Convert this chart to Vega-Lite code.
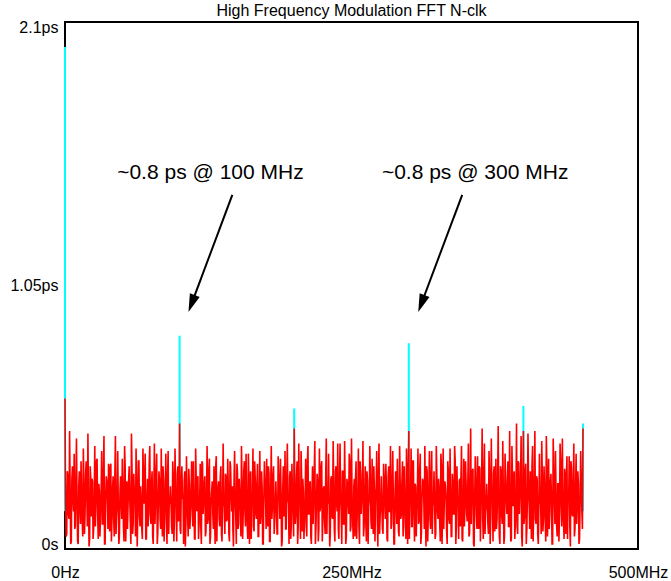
{
"$schema": "https://vega.github.io/schema/vega-lite/v6.json",
"width": 573, "height": 527,
"autosize": {"type": "none"},
"padding": {"left": 65, "top": 22, "right": 33, "bottom": 32},
"background": "white",
"title": {"text": "High Frequency Modulation FFT N-clk", "font": "Liberation Sans", "fontSize": 16, "fontWeight": "normal", "color": "black", "offset": 0, "anchor": "middle"},
"config": {
 "view": {"stroke": "black", "strokeWidth": 2},
 "axis": {"grid": false, "ticks": false, "domain": false, "title": null, "labelFont": "Liberation Sans", "labelFontSize": 16, "labelColor": "black"}
},
"datasets": {
"notes": [{"f":126.9,"v":1.5,"label":"~0.8 ps @ 100 MHz"},{"f":357.9,"v":1.5,"label":"~0.8 ps @ 300 MHz"}],
"arrows": [{"f":146.0,"v":1.411,"f2":110.5,"v2":0.978},{"f":346.6,"v":1.411,"f2":311.0,"v2":0.978}],
"heads": [{"f":110.5,"v":0.978},{"f":311.0,"v":0.978}],
"spikes": [{"f":0,"v":2.0,"lo":0.15},{"f":100,"v":0.85,"lo":0.15},{"f":200,"v":0.56,"lo":0.15},{"f":300,"v":0.82,"lo":0.15},{"f":400,"v":0.57,"lo":0.15},{"f":452,"v":0.5,"lo":0.15}],
"noise": [
{"f":0,"v":0.6},{"f":1,"v":0.05},{"f":2,"v":0.31},{"f":3,"v":0.14},{"f":4,"v":0.47},{"f":5,"v":0.02},{"f":6,"v":0.28},{"f":7,"v":0.2},{"f":8,"v":0.38},{"f":9,"v":0.09},
{"f":10,"v":0.44},{"f":11,"v":0.03},{"f":12,"v":0.25},{"f":13,"v":0.17},{"f":14,"v":0.35},{"f":15,"v":0.11},{"f":16,"v":0.4},{"f":17,"v":0.06},{"f":18,"v":0.3},{"f":19,"v":0.22},
{"f":20,"v":0.46},{"f":21,"v":0.01},{"f":22,"v":0.33},{"f":23,"v":0.13},{"f":24,"v":0.27},{"f":25,"v":0.08},{"f":26,"v":0.41},{"f":27,"v":0.18},{"f":28,"v":0.36},{"f":29,"v":0.04},
{"f":30,"v":0.23},{"f":31,"v":0.15},{"f":32,"v":0.39},{"f":33,"v":0.1},{"f":34,"v":0.45},{"f":35,"v":0.02},{"f":36,"v":0.29},{"f":37,"v":0.19},{"f":38,"v":0.34},{"f":39,"v":0.07},
{"f":40,"v":0.34},{"f":41,"v":0.12},{"f":42,"v":0.29},{"f":43,"v":0.05},{"f":44,"v":0.45},{"f":45,"v":0.14},{"f":46,"v":0.39},{"f":47,"v":0.02},{"f":48,"v":0.23},{"f":49,"v":0.2},
{"f":50,"v":0.36},{"f":51,"v":0.09},{"f":52,"v":0.41},{"f":53,"v":0.03},{"f":54,"v":0.27},{"f":55,"v":0.17},{"f":56,"v":0.33},{"f":57,"v":0.11},{"f":58,"v":0.46},{"f":59,"v":0.06},
{"f":60,"v":0.3},{"f":61,"v":0.22},{"f":62,"v":0.4},{"f":63,"v":0.01},{"f":64,"v":0.35},{"f":65,"v":0.13},{"f":66,"v":0.25},{"f":67,"v":0.08},{"f":68,"v":0.4},{"f":69,"v":0.18},
{"f":70,"v":0.38},{"f":71,"v":0.04},{"f":72,"v":0.28},{"f":73,"v":0.15},{"f":74,"v":0.41},{"f":75,"v":0.1},{"f":76,"v":0.31},{"f":77,"v":0.02},{"f":78,"v":0.42},{"f":79,"v":0.19},
{"f":80,"v":0.38},{"f":81,"v":0.07},{"f":82,"v":0.31},{"f":83,"v":0.12},{"f":84,"v":0.4},{"f":85,"v":0.05},{"f":86,"v":0.28},{"f":87,"v":0.14},{"f":88,"v":0.38},{"f":89,"v":0.02},
{"f":90,"v":0.39},{"f":91,"v":0.2},{"f":92,"v":0.25},{"f":93,"v":0.09},{"f":94,"v":0.35},{"f":95,"v":0.03},{"f":96,"v":0.4},{"f":97,"v":0.17},{"f":98,"v":0.3},{"f":99,"v":0.11},
{"f":100,"v":0.5},{"f":101,"v":0.06},{"f":102,"v":0.33},{"f":103,"v":0.22},{"f":104,"v":0.27},{"f":105,"v":0.01},{"f":106,"v":0.37},{"f":107,"v":0.13},{"f":108,"v":0.32},{"f":109,"v":0.08},
{"f":110,"v":0.23},{"f":111,"v":0.18},{"f":112,"v":0.35},{"f":113,"v":0.04},{"f":114,"v":0.4},{"f":115,"v":0.15},{"f":116,"v":0.29},{"f":117,"v":0.1},{"f":118,"v":0.34},{"f":119,"v":0.02},
{"f":120,"v":0.34},{"f":121,"v":0.19},{"f":122,"v":0.29},{"f":123,"v":0.07},{"f":124,"v":0.41},{"f":125,"v":0.12},{"f":126,"v":0.36},{"f":127,"v":0.05},{"f":128,"v":0.23},{"f":129,"v":0.14},
{"f":130,"v":0.33},{"f":131,"v":0.02},{"f":132,"v":0.37},{"f":133,"v":0.2},{"f":134,"v":0.27},{"f":135,"v":0.09},{"f":136,"v":0.33},{"f":137,"v":0.03},{"f":138,"v":0.42},{"f":139,"v":0.17},
{"f":140,"v":0.3},{"f":141,"v":0.11},{"f":142,"v":0.36},{"f":143,"v":0.06},{"f":144,"v":0.35},{"f":145,"v":0.22},{"f":146,"v":0.25},{"f":147,"v":0.01},{"f":148,"v":0.39},{"f":149,"v":0.13},
{"f":150,"v":0.34},{"f":151,"v":0.08},{"f":152,"v":0.28},{"f":153,"v":0.18},{"f":154,"v":0.41},{"f":155,"v":0.04},{"f":156,"v":0.31},{"f":157,"v":0.15},{"f":158,"v":0.38},{"f":159,"v":0.1},
{"f":160,"v":0.38},{"f":161,"v":0.02},{"f":162,"v":0.31},{"f":163,"v":0.19},{"f":164,"v":0.4},{"f":165,"v":0.07},{"f":166,"v":0.28},{"f":167,"v":0.12},{"f":168,"v":0.34},{"f":169,"v":0.05},
{"f":170,"v":0.39},{"f":171,"v":0.14},{"f":172,"v":0.25},{"f":173,"v":0.02},{"f":174,"v":0.35},{"f":175,"v":0.2},{"f":176,"v":0.36},{"f":177,"v":0.09},{"f":178,"v":0.3},{"f":179,"v":0.03},
{"f":180,"v":0.41},{"f":181,"v":0.17},{"f":182,"v":0.33},{"f":183,"v":0.11},{"f":184,"v":0.27},{"f":185,"v":0.06},{"f":186,"v":0.37},{"f":187,"v":0.22},{"f":188,"v":0.36},{"f":189,"v":0.01},
{"f":190,"v":0.23},{"f":191,"v":0.13},{"f":192,"v":0.39},{"f":193,"v":0.08},{"f":194,"v":0.42},{"f":195,"v":0.18},{"f":196,"v":0.29},{"f":197,"v":0.04},{"f":198,"v":0.34},{"f":199,"v":0.15},
{"f":200,"v":0.48},{"f":201,"v":0.1},{"f":202,"v":0.29},{"f":203,"v":0.02},{"f":204,"v":0.42},{"f":205,"v":0.19},{"f":206,"v":0.39},{"f":207,"v":0.07},{"f":208,"v":0.23},{"f":209,"v":0.12},
{"f":210,"v":0.36},{"f":211,"v":0.05},{"f":212,"v":0.41},{"f":213,"v":0.14},{"f":214,"v":0.27},{"f":215,"v":0.02},{"f":216,"v":0.33},{"f":217,"v":0.2},{"f":218,"v":0.43},{"f":219,"v":0.09},
{"f":220,"v":0.3},{"f":221,"v":0.03},{"f":222,"v":0.4},{"f":223,"v":0.17},{"f":224,"v":0.35},{"f":225,"v":0.11},{"f":226,"v":0.25},{"f":227,"v":0.06},{"f":228,"v":0.44},{"f":229,"v":0.22},
{"f":230,"v":0.38},{"f":231,"v":0.01},{"f":232,"v":0.28},{"f":233,"v":0.13},{"f":234,"v":0.43},{"f":235,"v":0.08},{"f":236,"v":0.31},{"f":237,"v":0.18},{"f":238,"v":0.42},{"f":239,"v":0.04},
{"f":240,"v":0.42},{"f":241,"v":0.15},{"f":242,"v":0.31},{"f":243,"v":0.1},{"f":244,"v":0.43},{"f":245,"v":0.02},{"f":246,"v":0.28},{"f":247,"v":0.19},{"f":248,"v":0.38},{"f":249,"v":0.07},
{"f":250,"v":0.44},{"f":251,"v":0.12},{"f":252,"v":0.25},{"f":253,"v":0.05},{"f":254,"v":0.35},{"f":255,"v":0.14},{"f":256,"v":0.4},{"f":257,"v":0.02},{"f":258,"v":0.3},{"f":259,"v":0.2},
{"f":260,"v":0.43},{"f":261,"v":0.09},{"f":262,"v":0.33},{"f":263,"v":0.03},{"f":264,"v":0.27},{"f":265,"v":0.17},{"f":266,"v":0.41},{"f":267,"v":0.11},{"f":268,"v":0.36},{"f":269,"v":0.06},
{"f":270,"v":0.23},{"f":271,"v":0.22},{"f":272,"v":0.39},{"f":273,"v":0.01},{"f":274,"v":0.42},{"f":275,"v":0.13},{"f":276,"v":0.29},{"f":277,"v":0.08},{"f":278,"v":0.34},{"f":279,"v":0.18},
{"f":280,"v":0.34},{"f":281,"v":0.04},{"f":282,"v":0.29},{"f":283,"v":0.15},{"f":284,"v":0.41},{"f":285,"v":0.1},{"f":286,"v":0.39},{"f":287,"v":0.02},{"f":288,"v":0.23},{"f":289,"v":0.19},
{"f":290,"v":0.36},{"f":291,"v":0.07},{"f":292,"v":0.41},{"f":293,"v":0.12},{"f":294,"v":0.27},{"f":295,"v":0.05},{"f":296,"v":0.33},{"f":297,"v":0.14},{"f":298,"v":0.4},{"f":299,"v":0.02},
{"f":300,"v":0.47},{"f":301,"v":0.2},{"f":302,"v":0.4},{"f":303,"v":0.09},{"f":304,"v":0.35},{"f":305,"v":0.03},{"f":306,"v":0.25},{"f":307,"v":0.17},{"f":308,"v":0.4},{"f":309,"v":0.11},
{"f":310,"v":0.38},{"f":311,"v":0.06},{"f":312,"v":0.28},{"f":313,"v":0.22},{"f":314,"v":0.41},{"f":315,"v":0.01},{"f":316,"v":0.31},{"f":317,"v":0.13},{"f":318,"v":0.39},{"f":319,"v":0.08},
{"f":320,"v":0.39},{"f":321,"v":0.18},{"f":322,"v":0.31},{"f":323,"v":0.04},{"f":324,"v":0.41},{"f":325,"v":0.15},{"f":326,"v":0.28},{"f":327,"v":0.1},{"f":328,"v":0.38},{"f":329,"v":0.02},
{"f":330,"v":0.4},{"f":331,"v":0.19},{"f":332,"v":0.25},{"f":333,"v":0.07},{"f":334,"v":0.35},{"f":335,"v":0.12},{"f":336,"v":0.4},{"f":337,"v":0.05},{"f":338,"v":0.3},{"f":339,"v":0.14},
{"f":340,"v":0.41},{"f":341,"v":0.02},{"f":342,"v":0.33},{"f":343,"v":0.2},{"f":344,"v":0.27},{"f":345,"v":0.09},{"f":346,"v":0.41},{"f":347,"v":0.03},{"f":348,"v":0.36},{"f":349,"v":0.17},
{"f":350,"v":0.26},{"f":351,"v":0.11},{"f":352,"v":0.42},{"f":353,"v":0.06},{"f":354,"v":0.48},{"f":355,"v":0.22},{"f":356,"v":0.32},{"f":357,"v":0.01},{"f":358,"v":0.37},{"f":359,"v":0.13},
{"f":360,"v":0.37},{"f":361,"v":0.08},{"f":362,"v":0.32},{"f":363,"v":0.18},{"f":364,"v":0.48},{"f":365,"v":0.04},{"f":366,"v":0.42},{"f":367,"v":0.15},{"f":368,"v":0.26},{"f":369,"v":0.1},
{"f":370,"v":0.39},{"f":371,"v":0.02},{"f":372,"v":0.44},{"f":373,"v":0.19},{"f":374,"v":0.3},{"f":375,"v":0.07},{"f":376,"v":0.36},{"f":377,"v":0.12},{"f":378,"v":0.49},{"f":379,"v":0.05},
{"f":380,"v":0.33},{"f":381,"v":0.14},{"f":382,"v":0.43},{"f":383,"v":0.02},{"f":384,"v":0.38},{"f":385,"v":0.2},{"f":386,"v":0.28},{"f":387,"v":0.09},{"f":388,"v":0.47},{"f":389,"v":0.03},
{"f":390,"v":0.41},{"f":391,"v":0.17},{"f":392,"v":0.31},{"f":393,"v":0.11},{"f":394,"v":0.5},{"f":395,"v":0.06},{"f":396,"v":0.34},{"f":397,"v":0.22},{"f":398,"v":0.45},{"f":399,"v":0.01},
{"f":400,"v":0.47},{"f":401,"v":0.13},{"f":402,"v":0.34},{"f":403,"v":0.08},{"f":404,"v":0.46},{"f":405,"v":0.18},{"f":406,"v":0.31},{"f":407,"v":0.04},{"f":408,"v":0.41},{"f":409,"v":0.15},
{"f":410,"v":0.47},{"f":411,"v":0.1},{"f":412,"v":0.28},{"f":413,"v":0.02},{"f":414,"v":0.38},{"f":415,"v":0.19},{"f":416,"v":0.43},{"f":417,"v":0.07},{"f":418,"v":0.33},{"f":419,"v":0.12},
{"f":420,"v":0.45},{"f":421,"v":0.05},{"f":422,"v":0.36},{"f":423,"v":0.14},{"f":424,"v":0.3},{"f":425,"v":0.02},{"f":426,"v":0.44},{"f":427,"v":0.2},{"f":428,"v":0.39},{"f":429,"v":0.09},
{"f":430,"v":0.26},{"f":431,"v":0.03},{"f":432,"v":0.42},{"f":433,"v":0.17},{"f":434,"v":0.44},{"f":435,"v":0.11},{"f":436,"v":0.32},{"f":437,"v":0.06},{"f":438,"v":0.37},{"f":439,"v":0.22},
{"f":440,"v":0.37},{"f":441,"v":0.01},{"f":442,"v":0.32},{"f":443,"v":0.13},{"f":444,"v":0.42},{"f":445,"v":0.08},{"f":446,"v":0.38},{"f":447,"v":0.18},{"f":448,"v":0.26},{"f":449,"v":0.04},
{"f":450,"v":0.39},{"f":451,"v":0.15},{"f":452,"v":0.48},
{"f":0.5,"v":0.18},{"f":1.5,"v":0.06},{"f":2.5,"v":0.29},{"f":3.5,"v":0.12},{"f":4.5,"v":0.24},{"f":5.5,"v":0.03},{"f":6.5,"v":0.33},{"f":7.5,"v":0.15},{"f":8.5,"v":0.08},{"f":9.5,"v":0.27},{"f":10.5,"v":0.2},{"f":11.5,"v":0.02},{"f":12.5,"v":0.31},{"f":13.5,"v":0.1},{"f":14.5,"v":0.22},{"f":15.5,"v":0.05},{"f":16.5,"v":0.26},{"f":17.5,"v":0.14},{"f":18.5,"v":0.35},{"f":19.5,"v":0.09},{"f":20.5,"v":0.19},{"f":21.5,"v":0.04},{"f":22.5,"v":0.28},
{"f":23.5,"v":0.28},{"f":24.5,"v":0.04},{"f":25.5,"v":0.19},{"f":26.5,"v":0.09},{"f":27.5,"v":0.35},{"f":28.5,"v":0.14},{"f":29.5,"v":0.26},{"f":30.5,"v":0.05},{"f":31.5,"v":0.22},{"f":32.5,"v":0.1},{"f":33.5,"v":0.31},{"f":34.5,"v":0.02},{"f":35.5,"v":0.2},{"f":36.5,"v":0.27},{"f":37.5,"v":0.08},{"f":38.5,"v":0.15},{"f":39.5,"v":0.33},{"f":40.5,"v":0.03},{"f":41.5,"v":0.24},{"f":42.5,"v":0.12},{"f":43.5,"v":0.29},{"f":44.5,"v":0.06},{"f":45.5,"v":0.18},
{"f":46.5,"v":0.18},{"f":47.5,"v":0.06},{"f":48.5,"v":0.29},{"f":49.5,"v":0.12},{"f":50.5,"v":0.24},{"f":51.5,"v":0.03},{"f":52.5,"v":0.33},{"f":53.5,"v":0.15},{"f":54.5,"v":0.08},{"f":55.5,"v":0.27},{"f":56.5,"v":0.2},{"f":57.5,"v":0.02},{"f":58.5,"v":0.31},{"f":59.5,"v":0.1},{"f":60.5,"v":0.22},{"f":61.5,"v":0.05},{"f":62.5,"v":0.26},{"f":63.5,"v":0.14},{"f":64.5,"v":0.35},{"f":65.5,"v":0.09},{"f":66.5,"v":0.19},{"f":67.5,"v":0.04},{"f":68.5,"v":0.28},
{"f":69.5,"v":0.28},{"f":70.5,"v":0.04},{"f":71.5,"v":0.19},{"f":72.5,"v":0.09},{"f":73.5,"v":0.35},{"f":74.5,"v":0.14},{"f":75.5,"v":0.26},{"f":76.5,"v":0.05},{"f":77.5,"v":0.22},{"f":78.5,"v":0.1},{"f":79.5,"v":0.31},{"f":80.5,"v":0.02},{"f":81.5,"v":0.2},{"f":82.5,"v":0.27},{"f":83.5,"v":0.08},{"f":84.5,"v":0.15},{"f":85.5,"v":0.33},{"f":86.5,"v":0.03},{"f":87.5,"v":0.24},{"f":88.5,"v":0.12},{"f":89.5,"v":0.29},{"f":90.5,"v":0.06},{"f":91.5,"v":0.18},
{"f":92.5,"v":0.18},{"f":93.5,"v":0.06},{"f":94.5,"v":0.29},{"f":95.5,"v":0.12},{"f":96.5,"v":0.24},{"f":97.5,"v":0.03},{"f":98.5,"v":0.33},{"f":99.5,"v":0.15},{"f":100.5,"v":0.08},{"f":101.5,"v":0.27},{"f":102.5,"v":0.2},{"f":103.5,"v":0.02},{"f":104.5,"v":0.31},{"f":105.5,"v":0.1},{"f":106.5,"v":0.22},{"f":107.5,"v":0.05},{"f":108.5,"v":0.26},{"f":109.5,"v":0.14},{"f":110.5,"v":0.35},{"f":111.5,"v":0.09},{"f":112.5,"v":0.19},{"f":113.5,"v":0.04},{"f":114.5,"v":0.28},
{"f":115.5,"v":0.28},{"f":116.5,"v":0.04},{"f":117.5,"v":0.19},{"f":118.5,"v":0.09},{"f":119.5,"v":0.35},{"f":120.5,"v":0.14},{"f":121.5,"v":0.26},{"f":122.5,"v":0.05},{"f":123.5,"v":0.22},{"f":124.5,"v":0.1},{"f":125.5,"v":0.31},{"f":126.5,"v":0.02},{"f":127.5,"v":0.2},{"f":128.5,"v":0.27},{"f":129.5,"v":0.08},{"f":130.5,"v":0.15},{"f":131.5,"v":0.33},{"f":132.5,"v":0.03},{"f":133.5,"v":0.24},{"f":134.5,"v":0.12},{"f":135.5,"v":0.29},{"f":136.5,"v":0.06},{"f":137.5,"v":0.18},
{"f":138.5,"v":0.18},{"f":139.5,"v":0.06},{"f":140.5,"v":0.29},{"f":141.5,"v":0.12},{"f":142.5,"v":0.24},{"f":143.5,"v":0.03},{"f":144.5,"v":0.33},{"f":145.5,"v":0.15},{"f":146.5,"v":0.08},{"f":147.5,"v":0.27},{"f":148.5,"v":0.2},{"f":149.5,"v":0.02},{"f":150.5,"v":0.31},{"f":151.5,"v":0.1},{"f":152.5,"v":0.22},{"f":153.5,"v":0.05},{"f":154.5,"v":0.26},{"f":155.5,"v":0.14},{"f":156.5,"v":0.35},{"f":157.5,"v":0.09},{"f":158.5,"v":0.19},{"f":159.5,"v":0.04},{"f":160.5,"v":0.28},
{"f":161.5,"v":0.28},{"f":162.5,"v":0.04},{"f":163.5,"v":0.19},{"f":164.5,"v":0.09},{"f":165.5,"v":0.35},{"f":166.5,"v":0.14},{"f":167.5,"v":0.26},{"f":168.5,"v":0.05},{"f":169.5,"v":0.22},{"f":170.5,"v":0.1},{"f":171.5,"v":0.31},{"f":172.5,"v":0.02},{"f":173.5,"v":0.2},{"f":174.5,"v":0.27},{"f":175.5,"v":0.08},{"f":176.5,"v":0.15},{"f":177.5,"v":0.33},{"f":178.5,"v":0.03},{"f":179.5,"v":0.24},{"f":180.5,"v":0.12},{"f":181.5,"v":0.29},{"f":182.5,"v":0.06},{"f":183.5,"v":0.18},
{"f":184.5,"v":0.18},{"f":185.5,"v":0.06},{"f":186.5,"v":0.29},{"f":187.5,"v":0.12},{"f":188.5,"v":0.24},{"f":189.5,"v":0.03},{"f":190.5,"v":0.33},{"f":191.5,"v":0.15},{"f":192.5,"v":0.08},{"f":193.5,"v":0.27},{"f":194.5,"v":0.2},{"f":195.5,"v":0.02},{"f":196.5,"v":0.31},{"f":197.5,"v":0.1},{"f":198.5,"v":0.22},{"f":199.5,"v":0.05},{"f":200.5,"v":0.26},{"f":201.5,"v":0.14},{"f":202.5,"v":0.35},{"f":203.5,"v":0.09},{"f":204.5,"v":0.19},{"f":205.5,"v":0.04},{"f":206.5,"v":0.28},
{"f":207.5,"v":0.28},{"f":208.5,"v":0.04},{"f":209.5,"v":0.19},{"f":210.5,"v":0.09},{"f":211.5,"v":0.35},{"f":212.5,"v":0.14},{"f":213.5,"v":0.26},{"f":214.5,"v":0.05},{"f":215.5,"v":0.22},{"f":216.5,"v":0.1},{"f":217.5,"v":0.31},{"f":218.5,"v":0.02},{"f":219.5,"v":0.2},{"f":220.5,"v":0.27},{"f":221.5,"v":0.08},{"f":222.5,"v":0.15},{"f":223.5,"v":0.33},{"f":224.5,"v":0.03},{"f":225.5,"v":0.24},{"f":226.5,"v":0.12},{"f":227.5,"v":0.29},{"f":228.5,"v":0.06},{"f":229.5,"v":0.18},
{"f":230.5,"v":0.18},{"f":231.5,"v":0.06},{"f":232.5,"v":0.29},{"f":233.5,"v":0.12},{"f":234.5,"v":0.24},{"f":235.5,"v":0.03},{"f":236.5,"v":0.33},{"f":237.5,"v":0.15},{"f":238.5,"v":0.08},{"f":239.5,"v":0.27},{"f":240.5,"v":0.2},{"f":241.5,"v":0.02},{"f":242.5,"v":0.31},{"f":243.5,"v":0.1},{"f":244.5,"v":0.22},{"f":245.5,"v":0.05},{"f":246.5,"v":0.26},{"f":247.5,"v":0.14},{"f":248.5,"v":0.35},{"f":249.5,"v":0.09},{"f":250.5,"v":0.19},{"f":251.5,"v":0.04},{"f":252.5,"v":0.28},
{"f":253.5,"v":0.28},{"f":254.5,"v":0.04},{"f":255.5,"v":0.19},{"f":256.5,"v":0.09},{"f":257.5,"v":0.35},{"f":258.5,"v":0.14},{"f":259.5,"v":0.26},{"f":260.5,"v":0.05},{"f":261.5,"v":0.22},{"f":262.5,"v":0.1},{"f":263.5,"v":0.31},{"f":264.5,"v":0.02},{"f":265.5,"v":0.2},{"f":266.5,"v":0.27},{"f":267.5,"v":0.08},{"f":268.5,"v":0.15},{"f":269.5,"v":0.33},{"f":270.5,"v":0.03},{"f":271.5,"v":0.24},{"f":272.5,"v":0.12},{"f":273.5,"v":0.29},{"f":274.5,"v":0.06},{"f":275.5,"v":0.18},
{"f":276.5,"v":0.18},{"f":277.5,"v":0.06},{"f":278.5,"v":0.29},{"f":279.5,"v":0.12},{"f":280.5,"v":0.24},{"f":281.5,"v":0.03},{"f":282.5,"v":0.33},{"f":283.5,"v":0.15},{"f":284.5,"v":0.08},{"f":285.5,"v":0.27},{"f":286.5,"v":0.2},{"f":287.5,"v":0.02},{"f":288.5,"v":0.31},{"f":289.5,"v":0.1},{"f":290.5,"v":0.22},{"f":291.5,"v":0.05},{"f":292.5,"v":0.26},{"f":293.5,"v":0.14},{"f":294.5,"v":0.35},{"f":295.5,"v":0.09},{"f":296.5,"v":0.19},{"f":297.5,"v":0.04},{"f":298.5,"v":0.28},
{"f":299.5,"v":0.28},{"f":300.5,"v":0.04},{"f":301.5,"v":0.19},{"f":302.5,"v":0.09},{"f":303.5,"v":0.35},{"f":304.5,"v":0.14},{"f":305.5,"v":0.26},{"f":306.5,"v":0.05},{"f":307.5,"v":0.22},{"f":308.5,"v":0.1},{"f":309.5,"v":0.31},{"f":310.5,"v":0.02},{"f":311.5,"v":0.2},{"f":312.5,"v":0.27},{"f":313.5,"v":0.08},{"f":314.5,"v":0.15},{"f":315.5,"v":0.33},{"f":316.5,"v":0.03},{"f":317.5,"v":0.24},{"f":318.5,"v":0.12},{"f":319.5,"v":0.29},{"f":320.5,"v":0.06},{"f":321.5,"v":0.18},
{"f":322.5,"v":0.18},{"f":323.5,"v":0.06},{"f":324.5,"v":0.29},{"f":325.5,"v":0.12},{"f":326.5,"v":0.24},{"f":327.5,"v":0.03},{"f":328.5,"v":0.33},{"f":329.5,"v":0.15},{"f":330.5,"v":0.08},{"f":331.5,"v":0.27},{"f":332.5,"v":0.2},{"f":333.5,"v":0.02},{"f":334.5,"v":0.31},{"f":335.5,"v":0.1},{"f":336.5,"v":0.22},{"f":337.5,"v":0.05},{"f":338.5,"v":0.26},{"f":339.5,"v":0.14},{"f":340.5,"v":0.35},{"f":341.5,"v":0.09},{"f":342.5,"v":0.19},{"f":343.5,"v":0.04},{"f":344.5,"v":0.28},
{"f":345.5,"v":0.28},{"f":346.5,"v":0.04},{"f":347.5,"v":0.19},{"f":348.5,"v":0.09},{"f":349.5,"v":0.35},{"f":350.5,"v":0.14},{"f":351.5,"v":0.26},{"f":352.5,"v":0.05},{"f":353.5,"v":0.22},{"f":354.5,"v":0.1},{"f":355.5,"v":0.31},{"f":356.5,"v":0.02},{"f":357.5,"v":0.2},{"f":358.5,"v":0.27},{"f":359.5,"v":0.08},{"f":360.5,"v":0.15},{"f":361.5,"v":0.33},{"f":362.5,"v":0.03},{"f":363.5,"v":0.24},{"f":364.5,"v":0.12},{"f":365.5,"v":0.29},{"f":366.5,"v":0.06},{"f":367.5,"v":0.18},
{"f":368.5,"v":0.18},{"f":369.5,"v":0.06},{"f":370.5,"v":0.29},{"f":371.5,"v":0.12},{"f":372.5,"v":0.24},{"f":373.5,"v":0.03},{"f":374.5,"v":0.33},{"f":375.5,"v":0.15},{"f":376.5,"v":0.08},{"f":377.5,"v":0.27},{"f":378.5,"v":0.2},{"f":379.5,"v":0.02},{"f":380.5,"v":0.31},{"f":381.5,"v":0.1},{"f":382.5,"v":0.22},{"f":383.5,"v":0.05},{"f":384.5,"v":0.26},{"f":385.5,"v":0.14},{"f":386.5,"v":0.35},{"f":387.5,"v":0.09},{"f":388.5,"v":0.19},{"f":389.5,"v":0.04},{"f":390.5,"v":0.28},
{"f":391.5,"v":0.28},{"f":392.5,"v":0.04},{"f":393.5,"v":0.19},{"f":394.5,"v":0.09},{"f":395.5,"v":0.35},{"f":396.5,"v":0.14},{"f":397.5,"v":0.26},{"f":398.5,"v":0.05},{"f":399.5,"v":0.22},{"f":400.5,"v":0.1},{"f":401.5,"v":0.31},{"f":402.5,"v":0.02},{"f":403.5,"v":0.2},{"f":404.5,"v":0.27},{"f":405.5,"v":0.08},{"f":406.5,"v":0.15},{"f":407.5,"v":0.33},{"f":408.5,"v":0.03},{"f":409.5,"v":0.24},{"f":410.5,"v":0.12},{"f":411.5,"v":0.29},{"f":412.5,"v":0.06},{"f":413.5,"v":0.18},
{"f":414.5,"v":0.18},{"f":415.5,"v":0.06},{"f":416.5,"v":0.29},{"f":417.5,"v":0.12},{"f":418.5,"v":0.24},{"f":419.5,"v":0.03},{"f":420.5,"v":0.33},{"f":421.5,"v":0.15},{"f":422.5,"v":0.08},{"f":423.5,"v":0.27},{"f":424.5,"v":0.2},{"f":425.5,"v":0.02},{"f":426.5,"v":0.31},{"f":427.5,"v":0.1},{"f":428.5,"v":0.22},{"f":429.5,"v":0.05},{"f":430.5,"v":0.26},{"f":431.5,"v":0.14},{"f":432.5,"v":0.35},{"f":433.5,"v":0.09},{"f":434.5,"v":0.19},{"f":435.5,"v":0.04},{"f":436.5,"v":0.28},
{"f":437.5,"v":0.28},{"f":438.5,"v":0.04},{"f":439.5,"v":0.19},{"f":440.5,"v":0.09},{"f":441.5,"v":0.35},{"f":442.5,"v":0.14},{"f":443.5,"v":0.26},{"f":444.5,"v":0.05},{"f":445.5,"v":0.22},{"f":446.5,"v":0.1},{"f":447.5,"v":0.31},{"f":448.5,"v":0.02},{"f":449.5,"v":0.2},{"f":450.5,"v":0.27},{"f":451.5,"v":0.08}
]
},
"encoding": {
 "x": {"field": "f", "type": "quantitative", "scale": {"domain": [0, 500], "nice": false},
  "axis": {"values": [0, 250, 500], "labelExpr": "datum.value == 0 ? '0Hz' : datum.value + 'MHz'", "labelFlush": false, "labelPadding": 15, "labelBaseline": "top"}},
 "y": {"field": "v", "type": "quantitative", "scale": {"domain": [0, 2.1], "nice": false},
  "axis": {"values": [0, 1.05, 2.1], "labelExpr": "datum.value == 0 ? '0s' : datum.value + 'ps'", "labelFlush": true, "labelFlushOffset": 3, "labelPadding": 7}}
},
"layer": [
 {"data": {"name": "spikes"}, "mark": {"type": "rule", "color": "#00ffff", "strokeWidth": 2}, "encoding": {"y2": {"field": "lo"}}},
 {"data": {"name": "noise"}, "mark": {"type": "line", "color": "#ff0000", "strokeWidth": 1.6}},
 {"data": {"name": "arrows"}, "mark": {"type": "rule", "color": "black", "strokeWidth": 2}, "encoding": {"x2": {"field": "f2"}, "y2": {"field": "v2"}}},
 {"data": {"name": "heads"}, "mark": {"type": "point", "shape": "M -0.35 -0.6 L 0.35 -0.6 L 0 0.6 Z", "filled": true, "color": "black", "opacity": 1, "size": 900, "angle": 20.6}},
 {"data": {"name": "notes"}, "mark": {"type": "text", "font": "Liberation Sans", "fontSize": 21, "color": "black", "align": "center", "baseline": "middle"}, "encoding": {"text": {"field": "label"}}}
]
}
